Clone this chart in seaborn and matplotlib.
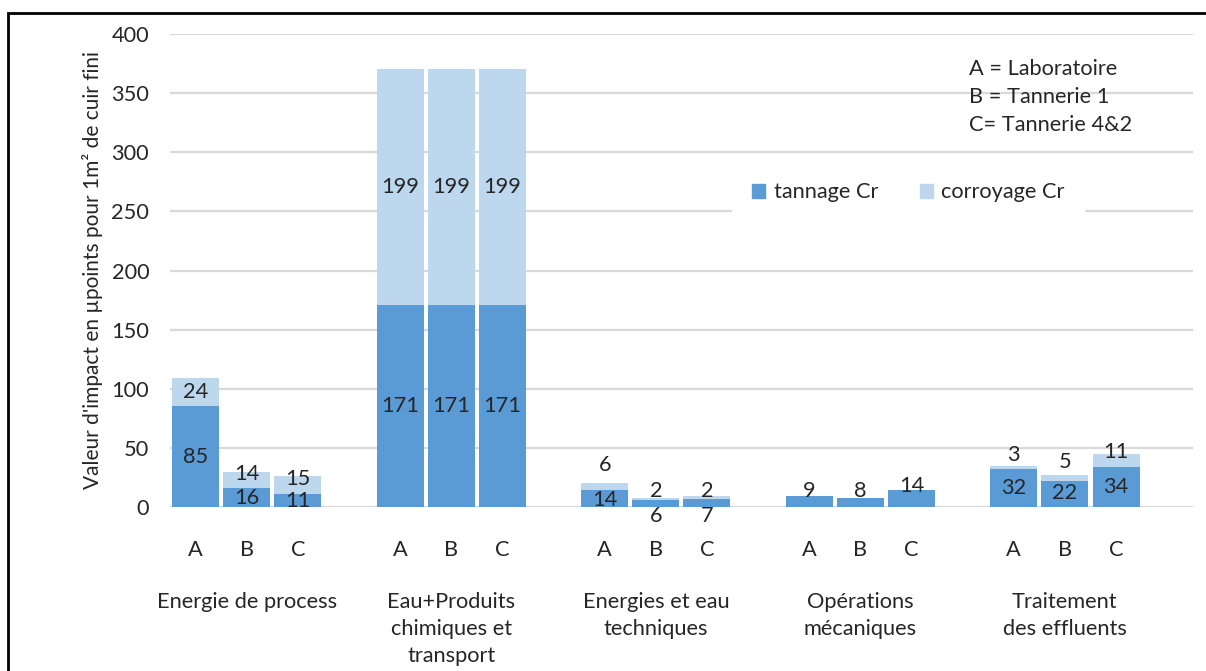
import numpy as np
import pandas as pd
import seaborn as sns
import matplotlib.pyplot as plt
from matplotlib.patches import Rectangle, Patch
from matplotlib.transforms import blended_transform_factory

groups = ["Energie de process", "Eau+Produits\nchimiques et\ntransport",
          "Energies et eau\ntechniques", "Opérations\nmécaniques",
          "Traitement\ndes effluents"]
sites = ["A", "B", "C"]
tannage = [85, 16, 11, 171, 171, 171, 14, 6, 7, 9, 8, 14, 32, 22, 34]
corroyage = [24, 14, 15, 199, 199, 199, 6, 2, 2, 0, 0, 0, 3, 5, 11]
site_notes = ["A = Laboratoire", "B = Tannerie 1", "C= Tannerie 4&2"]

# label heights where Excel moved them off the segment centre
tan_label_y = {6: 6, 7: -7.6, 8: -7.6, 9: 13.5, 10: 13.5, 11: 17.8, 13: 11.8}
cor_label_y = {1: 27.9, 2: 23.7, 6: 35.5, 7: 13.5, 8: 13.5, 12: 44, 13: 38, 14: 46.5}

dark = "#5B9BD5"
light = "#BDD7EE"
FS = 15.7

rows = []
for g in range(len(groups)):
    for i, s in enumerate(sites):
        k = g * 3 + i
        rows.append({"pos": 4 * g + i, "site": s,
                     "tannage": tannage[k], "total": tannage[k] + corroyage[k]})
df = pd.DataFrame(rows)

sns.set_style("white")
plt.rcParams["font.family"] = ["Lato", "DejaVu Sans"]

fig = plt.figure(figsize=(12.06, 6.71), dpi=100)
ax = fig.add_axes([0.141, 0.2444, 0.848, 0.7049])

sns.barplot(data=df, x="pos", y="total", native_scale=True, color=light,
            width=0.92, saturation=1, linewidth=0, ax=ax, zorder=2)
sns.barplot(data=df, x="pos", y="tannage", native_scale=True, color=dark,
            width=0.92, saturation=1, linewidth=0, ax=ax, zorder=3)

ax.set_xlim(-0.5, 19.5)
ax.set_ylim(0, 400)
ax.set_yticks(range(0, 401, 50))
ax.yaxis.grid(True, color="#D9D9D9", linewidth=1.6, zorder=0)
ax.set_axisbelow(True)
for sp in ax.spines.values():
    sp.set_visible(False)

ax.set_xticks(df["pos"])
ax.set_xticklabels(df["site"])
ax.tick_params(axis="x", length=0, pad=24, labelsize=FS)
ax.tick_params(axis="y", length=0, pad=15, labelsize=FS)
ax.set_xlabel("")
ax.set_ylabel("Valeur d'impact en µpoints pour 1m² de cuir fini", fontsize=FS - 0.7, labelpad=6)

# data labels
for k, row in df.iterrows():
    x = row["pos"]
    ty = tan_label_y.get(k, tannage[k] / 2)
    ax.text(x, ty, str(tannage[k]), ha="center", va="center", fontsize=FS, zorder=5)
    if corroyage[k] > 0:
        cy = cor_label_y.get(k, tannage[k] + corroyage[k] / 2)
        ax.text(x, cy, str(corroyage[k]), ha="center", va="center", fontsize=FS, zorder=5)

# group labels
trans = blended_transform_factory(ax.transData, ax.transAxes)
for g, name in enumerate(groups):
    ax.text(4 * g + 1, -0.179, name, transform=trans, ha="center", va="top",
            fontsize=FS, linespacing=1.45)

ax.text(0.781, 0.947, "\n".join(site_notes), transform=ax.transAxes, ha="left",
        va="top", fontsize=FS, linespacing=1.5)

handles = [Patch(color=dark, label="tannage Cr"), Patch(color=light, label="corroyage Cr")]
leg = ax.legend(handles=handles, loc="center", bbox_to_anchor=(0.722, 0.665), ncol=2,
                frameon=True, fontsize=FS, handlelength=0.6, handleheight=0.6,
                handletextpad=0.4, columnspacing=1.9, borderpad=0.9, borderaxespad=0)
leg.get_frame().set_edgecolor("white")
leg.get_frame().set_facecolor("white")
leg.get_frame().set_alpha(1)
leg.get_frame().set_boxstyle("square", pad=0)

fig.patches.append(Rectangle((8 / 1206, -0.05), 1.1, 1 - 13 / 671 + 0.05,
                             transform=fig.transFigure, fill=False,
                             edgecolor="black", linewidth=2))

fig.savefig("out.png", dpi=100)
